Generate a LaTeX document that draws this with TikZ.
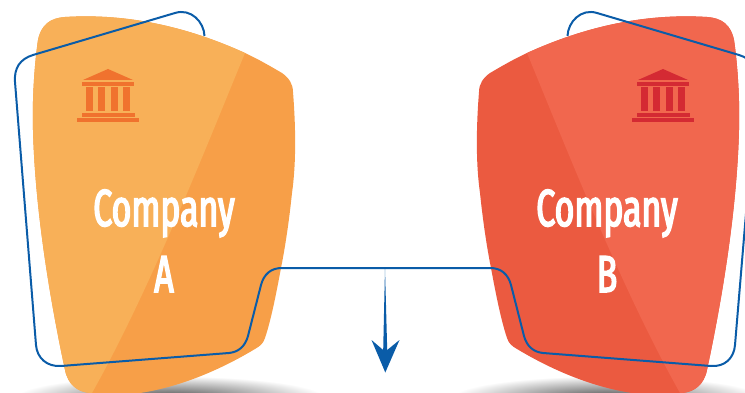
\documentclass[tikz,border=0pt]{standalone}
\usepackage{fontspec}
\usepackage{tikz}
\newfontfamily\labelfont[FakeStretch=0.65,FakeBold=3]{Fira Sans}
\definecolor{orangelight}{HTML}{F8B058}
\definecolor{orangedark}{HTML}{F79F48}
\definecolor{orangeicon}{HTML}{F0722E}
\definecolor{redlight}{HTML}{F1674E}
\definecolor{reddark}{HTML}{EB5A40}
\definecolor{redicon}{HTML}{D42A33}
\definecolor{lineblue}{HTML}{0A5CA8}
\newcommand{\shieldpath}{(33,130) .. controls (32,95) and (35,60) .. (38,40)
    .. controls (41,25) and (50,18) .. (65,17)
    .. controls (130,13) and (190,28) .. (245,53)
    .. controls (258,59) and (270,66) .. (282,73)
    .. controls (289,78) and (293,84) .. (293,92)
    .. controls (296,130) and (296,165) .. (292,193)
    .. controls (289,222) and (285,248) .. (281,268)
    .. controls (276,295) and (271,320) .. (265,338)
    .. controls (263,344) and (260,346) .. (255,349)
    .. controls (220,370) and (180,387) .. (140,393)
    .. controls (125,397) and (105,397) .. (90,393)
    .. controls (78,392) and (68,385) .. (65,370)
    .. controls (50,300) and (35,210) .. (33,130) -- cycle}
\newcommand{\bankicon}[2]{
    \fill[#2] (#1-25,80) -- (#1,69) -- (#1+25,80) -- cycle;
    \fill[#2] (#1-26,82) rectangle (#1+26,86);
    \foreach \c in {-22,-10,3,15}
        \fill[#2] (#1+\c,87) rectangle (#1+\c+7,111);
    \fill[#2] (#1-26,113) rectangle (#1+27,117);
    \fill[#2] (#1-31,118) rectangle (#1+31,122);
}

\begin{document}
\begin{tikzpicture}[x=1pt, y=-1pt,
    bluepath/.style={draw=lineblue, line width=2pt},
    companylabel/.style={text=white, anchor=base, font=\labelfont\fontsize{52}{52}\selectfont}]
    \useasboundingbox (0,0) rectangle (745,393);
    \clip (0,0) rectangle (745,393);

    \shade[inner color=black!70, outer color=white] (170,398) ellipse [x radius=155, y radius=22];
    \shade[inner color=black!70, outer color=white] (607,398) ellipse [x radius=155, y radius=22];

    \foreach \shiftx/\flip/\basecol/\topcol in {0/1/orangedark/orangelight, 772/-1/reddark/redlight} {
        \begin{scope}[xshift=\shiftx pt, xscale=\flip]
            \fill[\basecol] \shieldpath;
            \begin{scope}
                \clip \shieldpath;
                \fill[\topcol] (245,53) .. controls (205,150) and (150,290) .. (92,393)
                    -- (0,400) -- (0,0) -- (245,0) -- cycle;
            \end{scope}
        \end{scope}
    }

    \bankicon{108}{orangeicon}
    \bankicon{663}{redicon}

    \node[companylabel] (companyA) at (164,226) {Company};
    \node[companylabel] (labelA) at (164,292) {A};
    \node[companylabel] (companyB) at (607,226) {Company};
    \node[companylabel] (labelB) at (607,292) {B};

    \draw[bluepath] (204.5,36) .. controls (204,22) and (191,8) .. (175,13)
        -- (33,55) .. controls (20,59) and (14,68) .. (15,82)
        -- (36,345) .. controls (37,358) and (47,367) .. (61,366)
        -- (229,353) .. controls (238,352) and (245,347) .. (248,336)
        -- (261,285) .. controls (264,274) and (271,268) .. (282,268)
        -- (490,268) .. controls (501,268) and (508,274) .. (511,285)
        -- (524,336) .. controls (527,347) and (534,352) .. (543,353)
        -- (711,366) .. controls (725,367) and (734,358) .. (735,345)
        -- (757,82) .. controls (758,68) and (752,59) .. (739,55)
        -- (597,13) .. controls (581,8) and (568,22) .. (567.5,36);

    \fill[lineblue] (385,268) -- (387.2,350) -- (399.5,340) -- (385.3,372.5)
        -- (371.5,340) -- (383.2,350) -- cycle;
\end{tikzpicture}
\end{document}
